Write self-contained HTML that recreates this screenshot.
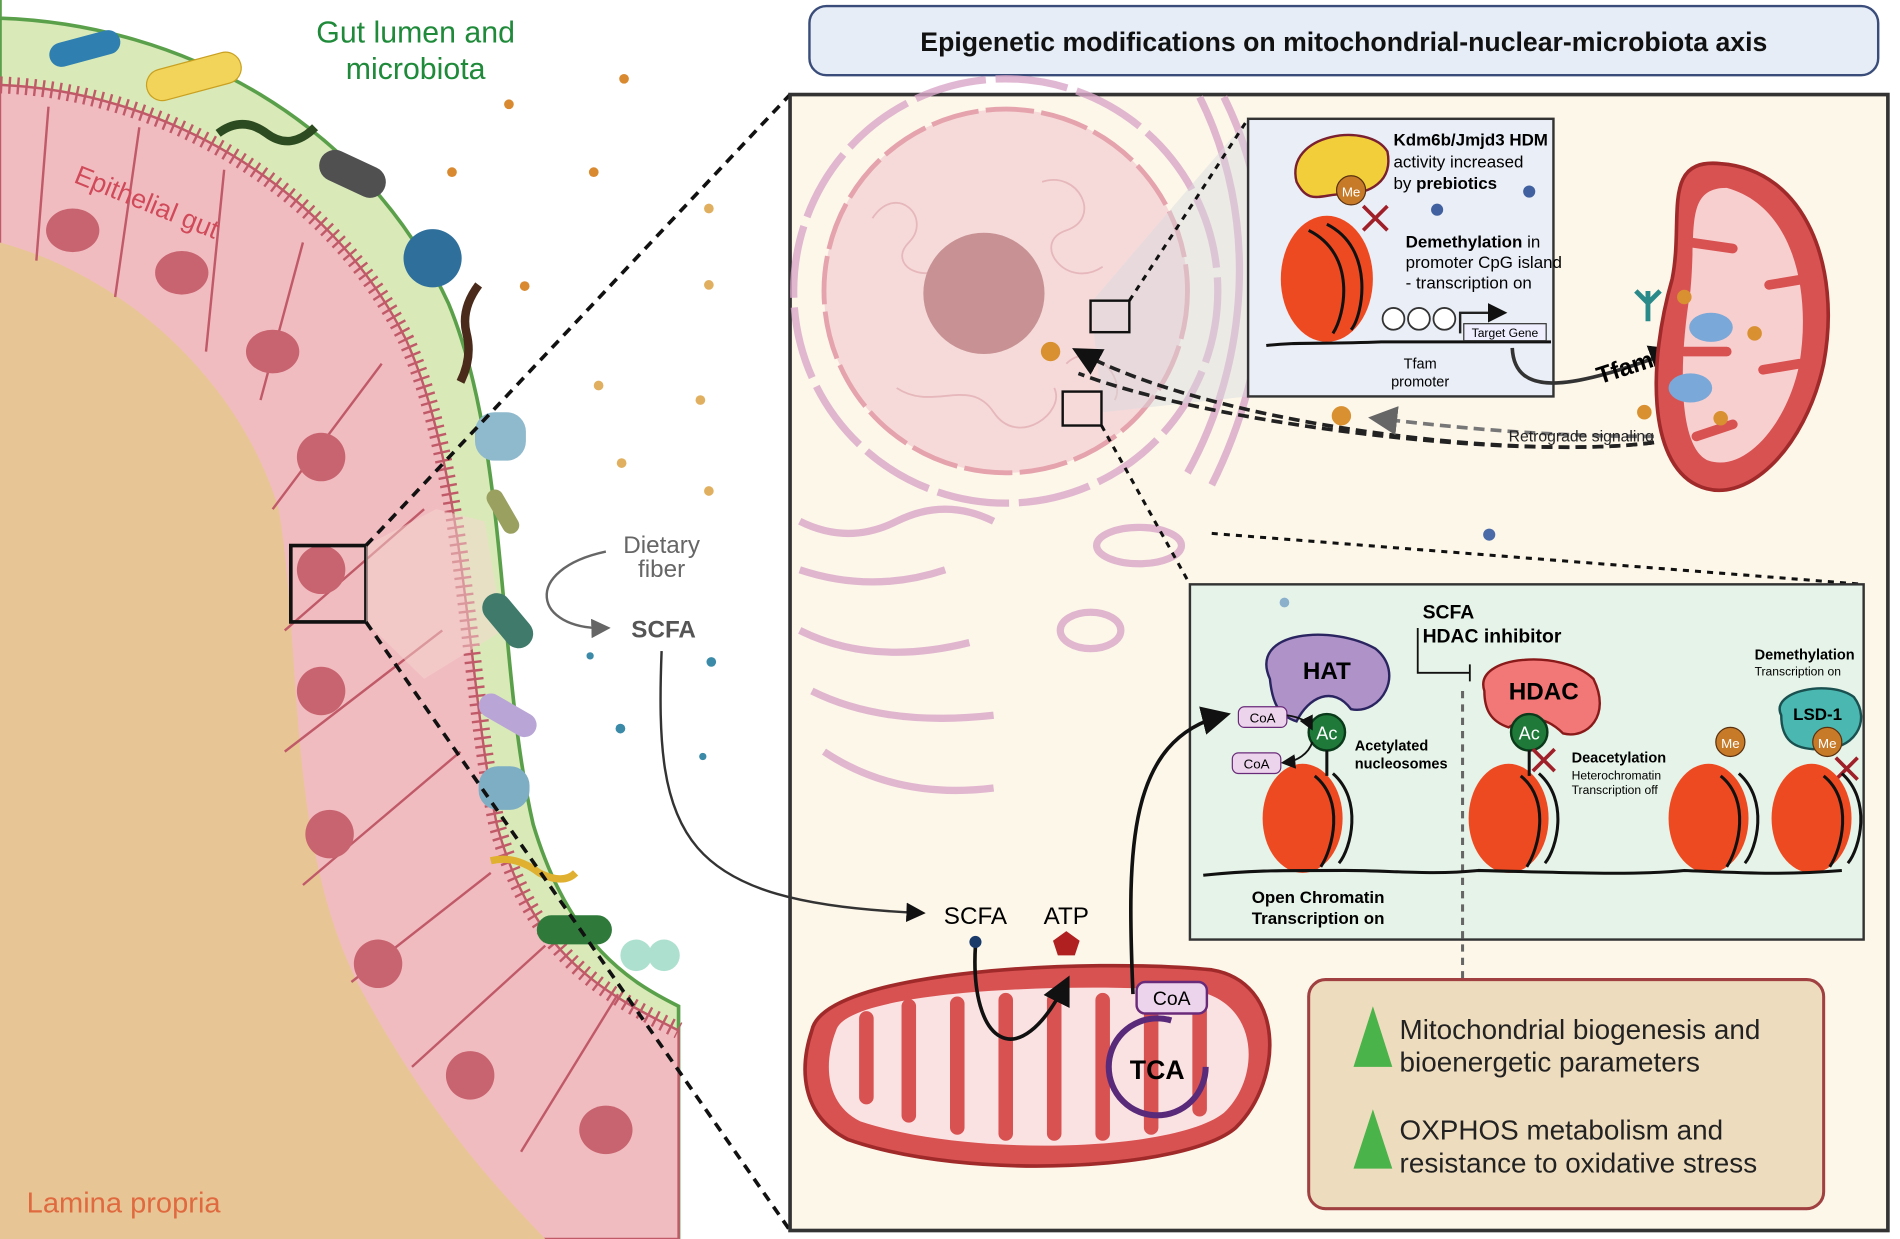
<!DOCTYPE html>
<html><head><meta charset="utf-8"><style>
html,body{margin:0;padding:0;background:#fff;}
svg{display:block;}
text{font-family:"Liberation Sans",sans-serif;}
</style></head><body>
<svg width="1900" height="1239" viewBox="0 0 1568 1022" preserveAspectRatio="none" xmlns="http://www.w3.org/2000/svg">
<defs>
<marker id="ah" markerWidth="8" markerHeight="8" refX="6" refY="4" orient="auto"><path d="M0,0 L8,4 L0,8 Z" fill="#111"/></marker>
<marker id="ahg" markerWidth="8" markerHeight="8" refX="6" refY="4" orient="auto"><path d="M0,0 L8,4 L0,8 Z" fill="#666"/></marker>
</defs>
<rect width="1568" height="1022" fill="#fff"/>
<!-- LEFT: gut -->
<path d="M0,0 L0,15 C150,20 300,100 370,250 C420,370 410,550 440,680 C470,780 520,810 560,830 L560,1022 L0,1022 Z" fill="#d9eab8" stroke="#5aa04a" stroke-width="3"/>
<path d="M0,70 C130,75 270,150 335,280 C385,390 385,560 410,680 C440,790 500,820 560,850 L560,1022 L0,1022Z" fill="#f1bcc0" stroke="#c05a68" stroke-width="2"/>
<path d="M0,70 C130,75 270,150 335,280 C385,390 385,560 410,680 C440,790 500,820 560,850" fill="none" stroke="#c05a68" stroke-width="14" stroke-dasharray="2 5"/>
<path d="M0,200 C110,230 200,320 230,420 C250,540 235,700 300,820 C360,930 420,990 450,1022 L0,1022Z" fill="#e8c595"/>
<g stroke="#c05a68" stroke-width="2" fill="none">
<path d="M40,88 L30,215"/><path d="M115,105 L95,245"/><path d="M185,140 L170,290"/><path d="M250,200 L215,330"/><path d="M315,300 L225,420"/><path d="M350,420 L235,520"/><path d="M365,520 L235,620"/><path d="M380,620 L250,730"/><path d="M405,720 L290,810"/><path d="M450,780 L340,880"/><path d="M510,820 L430,950"/>
</g>
<g fill="#c86470">
<ellipse cx="60" cy="190" rx="22" ry="18"/><ellipse cx="150" cy="225" rx="22" ry="18"/><ellipse cx="225" cy="290" rx="22" ry="18"/><ellipse cx="265" cy="377" rx="20" ry="20"/><ellipse cx="265" cy="470" rx="20" ry="20"/><ellipse cx="265" cy="570" rx="20" ry="20"/><ellipse cx="272" cy="688" rx="20" ry="20"/><ellipse cx="312" cy="795" rx="20" ry="20"/><ellipse cx="388" cy="887" rx="20" ry="20"/><ellipse cx="500" cy="932" rx="22" ry="20"/>
</g>
<rect x="240" y="450" width="62" height="63" fill="none" stroke="#111" stroke-width="3"/>
<path d="M302,450 L360,420 L400,430 L415,520 L350,560 L302,513Z" fill="#f6d5d0" opacity="0.5"/>
<!-- microbes -->
<rect x="40" y="30" width="60" height="20" rx="10" fill="#2f7fb0" transform="rotate(-15 70 40)"/>
<rect x="120" y="50" width="80" height="26" rx="13" fill="#f2d45a" stroke="#c9a020" transform="rotate(-15 160 63)"/>
<path d="M180,110 q20,-15 40,0 q20,15 40,-5" stroke="#2d4b20" stroke-width="7" fill="none"/>
<rect x="262" y="130" width="58" height="26" rx="13" fill="#505050" transform="rotate(25 290 143)"/>
<circle cx="357" cy="213" r="24" fill="#2f6f9c"/>
<path d="M380,315 q10,-20 5,-40 q-5,-20 10,-40" stroke="#4a2a1a" stroke-width="7" fill="none"/>
<rect x="392" y="340" width="42" height="40" rx="16" fill="#8fb9cc"/>
<rect x="395" y="415" width="40" height="14" rx="7" fill="#9aa060" transform="rotate(60 415 422)"/>
<rect x="393" y="500" width="52" height="24" rx="12" fill="#3f7a6a" transform="rotate(50 419 512)"/>
<rect x="393" y="580" width="52" height="20" rx="10" fill="#b9a6d6" transform="rotate(30 419 590)"/>
<rect x="395" y="632" width="42" height="36" rx="16" fill="#7eaec4"/>
<path d="M405,710 q20,-5 40,10 q20,10 30,0" stroke="#e0b030" stroke-width="6" fill="none"/>
<rect x="443" y="755" width="62" height="24" rx="12" fill="#2f7a3a"/>
<circle cx="525" cy="788" r="13" fill="#aee0d0"/><circle cx="548" cy="788" r="13" fill="#aee0d0"/>
<!-- dots -->
<g fill="#d98a30"><circle cx="515" cy="65" r="4"/><circle cx="420" cy="86" r="4"/><circle cx="373" cy="142" r="4"/><circle cx="490" cy="142" r="4"/><circle cx="433" cy="236" r="4"/></g>
<g fill="#e0b060"><circle cx="585" cy="172" r="4"/><circle cx="585" cy="235" r="4"/><circle cx="494" cy="318" r="4"/><circle cx="578" cy="330" r="4"/><circle cx="513" cy="382" r="4"/><circle cx="585" cy="405" r="4"/></g>
<g fill="#3a8aa8"><circle cx="587" cy="546" r="4"/><circle cx="512" cy="601" r="4"/><circle cx="487" cy="541" r="3"/><circle cx="580" cy="624" r="3"/></g>
<text x="343" y="35" font-size="25" fill="#1f8a3a" text-anchor="middle">Gut lumen and</text>
<text x="343" y="65" font-size="25" fill="#1f8a3a" text-anchor="middle">microbiota</text>
<text x="60" y="150" font-size="22" fill="#d04a5a" transform="rotate(22 60 150)">Epithelial gut</text>
<text x="22" y="1000" font-size="24" fill="#e06a40">Lamina propria</text>
<text x="546" y="456" font-size="20" fill="#666" text-anchor="middle">Dietary</text>
<text x="546" y="476" font-size="20" fill="#666" text-anchor="middle">fiber</text>
<path d="M500,455 C430,470 440,520 500,518" fill="none" stroke="#666" stroke-width="2" marker-end="url(#ahg)"/>
<text x="521" y="526" font-size="20" fill="#555" font-weight="bold">SCFA</text>
<!-- dashed zoom lines -->
<path d="M302,450 L652,78 M302,513 L652,1015" stroke="#111" stroke-width="3" stroke-dasharray="8 6"/>
<!-- title -->
<rect x="668" y="5" width="882" height="57" rx="14" fill="#e6edf7" stroke="#3a4d7a" stroke-width="2"/>
<text x="1109" y="42" font-size="22" font-weight="bold" text-anchor="middle" fill="#111">Epigenetic modifications on mitochondrial-nuclear-microbiota axis</text>
<!-- main panel -->
<rect x="652" y="78" width="906" height="937" fill="#fdf7ea" stroke="#333" stroke-width="3"/>
<path d="M546,537 C540,690 560,745 760,753" fill="none" stroke="#333" stroke-width="2" marker-end="url(#ah)"/>
<!-- ER -->
<g fill="none" stroke="#d9a6c8" stroke-width="6" opacity="0.8">
<circle cx="830" cy="240" r="175" stroke-dasharray="60 8"/>
<path d="M990,80 C1040,180 1030,300 980,390"/><path d="M1010,80 C1060,180 1050,300 1000,400"/>
<path d="M660,430 q40,20 80,0 q40,-20 80,0"/><path d="M660,470 q60,20 120,0"/><path d="M660,520 q60,30 140,10"/><path d="M670,570 q60,30 150,20"/><path d="M680,620 q60,40 140,30"/>
<ellipse cx="940" cy="450" rx="35" ry="15"/><ellipse cx="900" cy="520" rx="25" ry="15"/>
</g>
<circle cx="830" cy="240" r="150" fill="#f6dada" stroke="#e5a3ad" stroke-width="4" stroke-dasharray="40 6"/>
<g fill="none" stroke="#e6b8bc" stroke-width="1.5">
<path d="M720,180 c20,-30 50,0 30,20 c-20,20 20,40 40,10 M860,150 c30,-10 50,30 20,40 c-30,10 0,50 30,30 M740,320 c30,20 60,-10 80,20 c20,30 60,0 50,-20 M880,300 c20,-20 50,10 40,30"/>
</g>
<circle cx="812" cy="242" r="50" fill="#c89294"/>
<path d="M900,250 L1030,98 L1030,327 L910,340Z" fill="#d8dadd" opacity="0.45"/>
<rect x="900" y="248" width="32" height="26" fill="none" stroke="#111" stroke-width="2"/>
<rect x="877" y="323" width="32" height="28" fill="none" stroke="#111" stroke-width="2"/>
<path d="M932,248 L1030,98" stroke="#111" stroke-width="2.5" stroke-dasharray="5 5"/>
<path d="M909,351 L982,482" stroke="#111" stroke-width="2.5" stroke-dasharray="5 5"/>
<path d="M1000,440 L1538,482" stroke="#111" stroke-width="2.5" stroke-dasharray="5 5"/>
<circle cx="867" cy="290" r="8" fill="#d89030"/>
<circle cx="1107" cy="343" r="8" fill="#d89030"/>
<path d="M1365,365 C1250,380 1000,350 890,290" fill="none" stroke="#222" stroke-width="3" stroke-dasharray="9 5" marker-end="url(#ah)"/>
<path d="M1365,365 C1250,380 1000,350 890,308" fill="none" stroke="#222" stroke-width="3" stroke-dasharray="9 5"/>
<path d="M1365,360 C1260,360 1180,350 1135,345" fill="none" stroke="#777" stroke-width="3" stroke-dasharray="9 5" marker-end="url(#ahg)"/>
<text x="1245" y="364" font-size="13" fill="#222">Retrograde signaling</text>
<circle cx="1229" cy="441" r="5" fill="#4a6aa8"/>
<!-- top box -->
<rect x="1030" y="98" width="252" height="229" fill="#eaeef6" stroke="#333" stroke-width="2"/>
<path d="M1070,150 C1060,110 1130,100 1145,125 C1150,150 1130,160 1110,160 C1090,160 1080,170 1070,150Z" fill="#f2cf3a" stroke="#7a2030" stroke-width="2"/>
<circle cx="1115" cy="157" r="12" fill="#c77a28" stroke="#5a3010"/><text x="1115" y="162" font-size="11" fill="#fff" text-anchor="middle">Me</text>
<path d="M1125,170 l20,20 M1145,170 l-20,20" stroke="#a0202a" stroke-width="3"/>
<ellipse cx="1095" cy="230" rx="38" ry="52" fill="#ee4a22"/>
<path d="M1080,190 C1120,210 1110,260 1100,275 M1095,185 C1135,205 1125,260 1115,272" stroke="#111" stroke-width="2.5" fill="none"/>
<path d="M1045,285 C1070,282 1090,284 1140,282 L1280,282" stroke="#111" stroke-width="2.5" fill="none"/>
<g fill="#fff" stroke="#333" stroke-width="1.5"><circle cx="1150" cy="263" r="9"/><circle cx="1171" cy="263" r="9"/><circle cx="1192" cy="263" r="9"/></g>
<rect x="1208" y="267" width="68" height="14" fill="#eef" stroke="#333"/>
<text x="1242" y="278" font-size="10" text-anchor="middle">Target Gene</text>
<path d="M1205,275 L1205,258 L1240,258" stroke="#222" stroke-width="2" fill="none" marker-end="url(#ah)"/>
<text x="1150" y="120" font-size="14" font-weight="bold">Kdm6b/Jmjd3 HDM</text>
<text x="1150" y="138" font-size="14">activity increased</text>
<text x="1150" y="156" font-size="14">by <tspan font-weight="bold">prebiotics</tspan></text>
<text x="1160" y="204" font-size="14"><tspan font-weight="bold">Demethylation</tspan> in</text>
<text x="1160" y="221" font-size="14">promoter CpG island</text>
<text x="1160" y="238" font-size="14">- transcription on</text>
<text x="1172" y="304" font-size="12" text-anchor="middle">Tfam</text>
<text x="1172" y="319" font-size="12" text-anchor="middle">promoter</text>
<circle cx="1186" cy="173" r="5" fill="#4060a0"/><circle cx="1262" cy="158" r="5" fill="#4060a0"/>
<path d="M1248,287 C1250,330 1300,320 1380,290" stroke="#333" stroke-width="3" fill="none" marker-end="url(#ah)"/>
<text x="1316" y="310" font-size="20" font-weight="bold" transform="rotate(-18 1340 300)">Tfam</text>
<!-- right mito -->
<path d="M1420,135 C1490,140 1520,220 1505,300 C1490,370 1440,420 1400,400 C1360,380 1360,300 1380,230 C1390,180 1370,130 1420,135Z" fill="#d85252" stroke="#a02a2a" stroke-width="3"/>
<path d="M1425,155 C1480,170 1495,240 1485,300 C1475,350 1440,390 1410,380 C1385,370 1385,300 1395,240 C1400,190 1390,155 1425,155Z" fill="#f8cfcf"/>
<g stroke="#d85252" stroke-width="8" stroke-linecap="round"><path d="M1395,200 L1430,205 M1490,230 L1460,235 M1390,290 L1425,290 M1485,300 L1455,305 M1400,360 L1430,350"/></g>
<ellipse cx="1412" cy="270" rx="18" ry="12" fill="#7aa8d8"/><ellipse cx="1395" cy="320" rx="18" ry="12" fill="#7aa8d8"/>
<path d="M1360,240 l0,25 M1350,240 l10,10 l10,-10" stroke="#2a8a8a" stroke-width="4" fill="none"/>
<g fill="#d89030"><circle cx="1390" cy="245" r="6"/><circle cx="1448" cy="275" r="6"/><circle cx="1357" cy="340" r="6"/><circle cx="1420" cy="345" r="6"/></g>
<!-- green box -->
<rect x="982" y="482" width="556" height="293" fill="#e6f3e8" stroke="#333" stroke-width="2"/>
<circle cx="1060" cy="497" r="4" fill="#8ab0cc"/>
<text x="1174" y="510" font-size="16" font-weight="bold">SCFA</text>
<text x="1174" y="530" font-size="16" font-weight="bold">HDAC inhibitor</text>
<path d="M1170,518 L1170,555 L1213,555 M1213,548 L1213,562" stroke="#111" stroke-width="1.5" fill="none"/>
<path d="M1207,570 L1207,822" stroke="#666" stroke-width="2.5" stroke-dasharray="6 5"/>
<circle cx="1207" cy="823" r="4" fill="#111"/>
<path d="M1048,560 C1030,520 1100,515 1135,535 C1160,555 1140,590 1115,585 C1100,565 1080,575 1070,595 C1055,590 1050,580 1048,560Z" fill="#ae92c8" stroke="#2a2560" stroke-width="2"/>
<text x="1095" y="560" font-size="20" font-weight="bold" text-anchor="middle">HAT</text>
<path d="M1225,570 C1215,540 1290,535 1315,560 C1330,590 1310,610 1290,605 C1275,590 1260,590 1245,600 C1230,595 1225,585 1225,570Z" fill="#f27878" stroke="#8a1a1a" stroke-width="2"/>
<text x="1274" y="577" font-size="20" font-weight="bold" text-anchor="middle">HDAC</text>
<path d="M1470,590 C1460,570 1510,560 1530,575 C1545,595 1530,620 1500,618 C1480,618 1470,610 1470,590Z" fill="#4ab8b0" stroke="#1a5050" stroke-width="2"/>
<text x="1500" y="594" font-size="14" font-weight="bold" text-anchor="middle">LSD-1</text>
<rect x="1022" y="583" width="40" height="17" rx="5" fill="#ecd4ec" stroke="#6a2a7a"/><text x="1042" y="596" font-size="11" text-anchor="middle">CoA</text>
<rect x="1017" y="621" width="40" height="17" rx="5" fill="#ecd4ec" stroke="#6a2a7a"/><text x="1037" y="634" font-size="11" text-anchor="middle">CoA</text>
<circle cx="1095" cy="604" r="15" fill="#1f7a3a" stroke="#0a3a1a" stroke-width="2"/><text x="1095" y="610" font-size="15" fill="#fff" text-anchor="middle">Ac</text>
<circle cx="1262" cy="604" r="15" fill="#1f7a3a" stroke="#0a3a1a" stroke-width="2"/><text x="1262" y="610" font-size="15" fill="#fff" text-anchor="middle">Ac</text>
<path d="M1265,618 l18,18 M1283,618 l-18,18" stroke="#a0202a" stroke-width="3"/>
<circle cx="1428" cy="612" r="12" fill="#c77a28" stroke="#5a3010"/><text x="1428" y="617" font-size="11" fill="#fff" text-anchor="middle">Me</text>
<circle cx="1508" cy="612" r="12" fill="#c77a28" stroke="#5a3010"/><text x="1508" y="617" font-size="11" fill="#fff" text-anchor="middle">Me</text>
<path d="M1515,625 l18,18 M1533,625 l-18,18" stroke="#a0202a" stroke-width="3"/>
<g fill="#ee4a22"><ellipse cx="1075" cy="675" rx="33" ry="45"/><ellipse cx="1245" cy="675" rx="33" ry="45"/><ellipse cx="1410" cy="675" rx="33" ry="45"/><ellipse cx="1495" cy="675" rx="33" ry="45"/></g>
<g stroke="#111" stroke-width="2.5" fill="none">
<path d="M1085,640 C1110,660 1100,700 1090,715 M1100,638 C1125,660 1115,700 1105,712"/>
<path d="M1255,640 C1280,660 1270,700 1260,715 M1270,638 C1295,660 1285,700 1275,712"/>
<path d="M1420,640 C1445,660 1435,700 1425,715 M1435,638 C1460,660 1450,700 1440,712"/>
<path d="M1505,640 C1530,660 1520,700 1510,715 M1520,638 C1545,660 1535,700 1525,712"/>
<path d="M993,722 C1030,718 1050,718 1110,718 C1150,718 1180,722 1220,718 C1300,720 1350,722 1390,718 C1440,720 1470,722 1520,718"/>
<path d="M1095,619 L1095,640 M1262,619 L1262,640"/>
</g>
<path d="M1062,590 C1075,592 1080,596 1082,600" stroke="#111" stroke-width="1.5" fill="none" marker-end="url(#ah)"/>
<path d="M1083,612 C1080,622 1070,628 1060,629" stroke="#111" stroke-width="1.5" fill="none" marker-end="url(#ah)"/>
<text x="1118" y="619" font-size="12" font-weight="bold">Acetylated</text>
<text x="1118" y="634" font-size="12" font-weight="bold">nucleosomes</text>
<text x="1297" y="629" font-size="12" font-weight="bold">Deacetylation</text>
<text x="1297" y="643" font-size="10">Heterochromatin</text>
<text x="1297" y="655" font-size="10">Transcription off</text>
<text x="1448" y="544" font-size="12" font-weight="bold">Demethylation</text>
<text x="1448" y="557" font-size="10">Transcription on</text>
<text x="1033" y="745" font-size="14" font-weight="bold">Open Chromatin</text>
<text x="1033" y="762" font-size="14" font-weight="bold">Transcription on</text>
<!-- bottom mito -->
<path d="M670,850 C680,800 900,790 1000,800 C1060,810 1060,890 1020,930 C980,965 800,975 700,940 C660,920 660,880 670,850Z" fill="#d85252" stroke="#a02a2a" stroke-width="3"/>
<path d="M690,850 C700,815 900,810 990,818 C1040,830 1040,890 1010,918 C970,950 800,955 710,925 C680,910 680,875 690,850Z" fill="#fbe2e2"/>
<g stroke="#d85252" stroke-width="12" stroke-linecap="round">
<path d="M715,840 L715,905 M750,830 L750,920 M790,828 L790,930 M830,825 L830,935 M870,825 L870,935 M910,825 L910,935 M950,825 L950,930 M990,830 L990,915"/>
</g>
<path d="M805,780 C800,860 840,890 880,810" fill="none" stroke="#111" stroke-width="3" marker-end="url(#ah)"/>
<path d="M935,820 C930,700 930,610 1010,590" fill="none" stroke="#111" stroke-width="3" marker-end="url(#ah)"/>
<circle cx="955" cy="880" r="40" fill="none" stroke="#5a2a7a" stroke-width="5" stroke-dasharray="200 60"/>
<text x="955" y="890" font-size="22" font-weight="bold" text-anchor="middle">TCA</text>
<rect x="938" y="810" width="58" height="26" rx="7" fill="#ecd4ec" stroke="#6a2a7a" stroke-width="2"/><text x="967" y="829" font-size="16" text-anchor="middle">CoA</text>
<text x="805" y="762" font-size="20" text-anchor="middle">SCFA</text>
<circle cx="805" cy="777" r="5" fill="#1a3a6a"/>
<text x="880" y="762" font-size="20" text-anchor="middle">ATP</text>
<path d="M880,768 L891,776 L887,788 L873,788 L869,776Z" fill="#b02020"/>
<!-- results box -->
<rect x="1080" y="808" width="425" height="189" rx="14" fill="#eedcbe" stroke="#a04040" stroke-width="2.5"/>
<path d="M1133,830 L1149,880 L1117,880Z" fill="#4ab34a"/>
<path d="M1133,915 L1149,964 L1117,964Z" fill="#4ab34a"/>
<text x="1155" y="857" font-size="23" fill="#222">Mitochondrial biogenesis and</text>
<text x="1155" y="884" font-size="23" fill="#222">bioenergetic parameters</text>
<text x="1155" y="940" font-size="23" fill="#222">OXPHOS metabolism and</text>
<text x="1155" y="967" font-size="23" fill="#222">resistance to oxidative stress</text>
</svg>
</body></html>
